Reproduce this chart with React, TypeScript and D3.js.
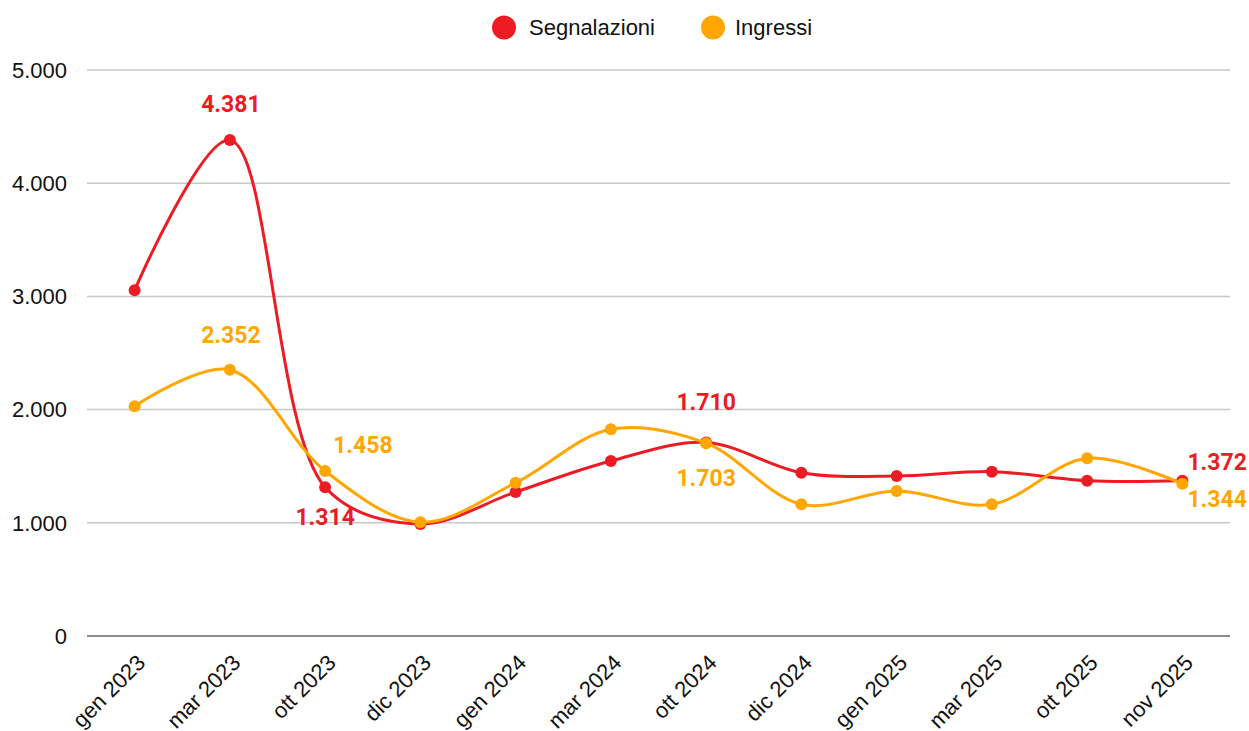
import React, { useRef, useEffect } from "react";
import * as d3 from "d3";

// months on the x axis
const categories = [
  "gen 2023",
  "mar 2023",
  "ott 2023",
  "dic 2023",
  "gen 2024",
  "mar 2024",
  "ott 2024",
  "dic 2024",
  "gen 2025",
  "mar 2025",
  "ott 2025",
  "nov 2025",
];

const segnalazioni = [3055, 4381, 1314, 990, 1272, 1546, 1710, 1443, 1413, 1452, 1372, 1372];
const ingressi = [2030, 2352, 1458, 1005, 1354, 1826, 1703, 1163, 1281, 1163, 1570, 1344];

const yTicks = [0, 1000, 2000, 3000, 4000, 5000];

// which points carry a value label
const labelledSegnalazioni = [1, 2, 6, 11];
const labelledIngressi = [1, 2, 6, 11];

const App = () => {
  const svgRef = useRef<SVGSVGElement>(null);
  const width = 1249;
  const height = 731;
  const margin = { top: 70, right: 19, bottom: 95, left: 87 };

  useEffect(() => {
    const it = d3.formatLocale({
      decimal: ",",
      thousands: ".",
      grouping: [3],
      currency: ["", " €"],
    });
    const fmt = it.format(",d");

    const series = [
      { name: "Segnalazioni", values: segnalazioni, color: "#ed1c24", labelled: labelledSegnalazioni },
      { name: "Ingressi", values: ingressi, color: "#ffa600", labelled: labelledIngressi },
    ];

    // label placement per series / index, decided to avoid overlaps like the original
    const placement: Record<string, Record<number, { dx: number; dy: number; anchor: string }>> = {
      Segnalazioni: {
        1: { dx: 1, dy: -28, anchor: "middle" },
        2: { dx: 0, dy: 38, anchor: "middle" },
        6: { dx: 0, dy: -32, anchor: "middle" },
        11: { dx: 5, dy: -11, anchor: "start" },
      },
      Ingressi: {
        1: { dx: 1, dy: -27, anchor: "middle" },
        2: { dx: 8, dy: -18, anchor: "start" },
        6: { dx: 0, dy: 43, anchor: "middle" },
        11: { dx: 5, dy: 23, anchor: "start" },
      },
    };

    const xScale = d3
      .scalePoint<string>()
      .domain(categories)
      .range([margin.left, width - margin.right])
      .padding(0.5);

    const yScale = d3
      .scaleLinear()
      .domain([0, 5000])
      .range([height - margin.bottom, margin.top]);

    const svg = d3.select(svgRef.current);
    svg.selectAll("*").remove();

    // gridlines
    svg
      .append("g")
      .selectAll("line")
      .data(yTicks.filter((t) => t > 0))
      .join("line")
      .attr("x1", margin.left)
      .attr("x2", width - margin.right)
      .attr("y1", (d) => yScale(d))
      .attr("y2", (d) => yScale(d))
      .attr("stroke", "#c8c8c8")
      .attr("stroke-width", 1.5);

    // baseline
    svg
      .append("line")
      .attr("x1", margin.left)
      .attr("x2", width - margin.right)
      .attr("y1", yScale(0))
      .attr("y2", yScale(0))
      .attr("stroke", "#8c8c8c")
      .attr("stroke-width", 2);

    // y tick labels
    svg
      .append("g")
      .selectAll("text")
      .data(yTicks)
      .join("text")
      .attr("x", 67)
      .attr("y", (d) => yScale(d))
      .attr("dy", "0.35em")
      .attr("text-anchor", "end")
      .attr("font-family", "'Liberation Sans', Arial, sans-serif")
      .attr("font-size", 22)
      .attr("fill", "#111")
      .text((d) => fmt(d));

    // x tick labels, slanted
    svg
      .append("g")
      .selectAll("text")
      .data(categories)
      .join("text")
      .attr("transform", (d) => `translate(${(xScale(d) as number) + 12},664) rotate(-45)`)
      .attr("text-anchor", "end")
      .attr("font-family", "'Liberation Sans', Arial, sans-serif")
      .attr("font-size", 22)
      .attr("fill", "#111")
      .text((d) => d);

    const line = d3
      .line<number>()
      .x((d, i) => xScale(categories[i]) as number)
      .y((d) => yScale(d))
      .curve(d3.curveCatmullRom.alpha(0.5));

    series.forEach((s) => {
      svg
        .append("path")
        .attr("d", line(s.values))
        .attr("fill", "none")
        .attr("stroke", s.color)
        .attr("stroke-width", 3);

      svg
        .append("g")
        .selectAll("circle")
        .data(s.values)
        .join("circle")
        .attr("cx", (d, i) => xScale(categories[i]) as number)
        .attr("cy", (d) => yScale(d))
        .attr("r", 6)
        .attr("fill", s.color);
    });

    // value labels
    series.forEach((s) => {
      svg
        .append("g")
        .selectAll("text")
        .data(s.labelled)
        .join("text")
        .attr("x", (i) => (xScale(categories[i]) as number) + placement[s.name][i].dx)
        .attr("y", (i) => yScale(s.values[i]) + placement[s.name][i].dy)
        .attr("text-anchor", (i) => placement[s.name][i].anchor)
        .attr("font-family", "Roboto, sans-serif")
        .attr("font-weight", 700)
        .attr("font-size", 23)
        .attr("fill", s.color)
        .text((i) => fmt(s.values[i]));
    });

    // legend
    const legendX = [504, 713];
    const legend = svg
      .append("g")
      .selectAll("g")
      .data(series)
      .join("g")
      .attr("transform", (d, i) => `translate(${legendX[i]},27.5)`);

    legend.append("circle").attr("r", 12).attr("fill", (d) => d.color);

    legend
      .append("text")
      .attr("x", (d, i) => (i === 0 ? 25 : 22))
      .attr("dy", "0.35em")
      .attr("font-family", "'Liberation Sans', Arial, sans-serif")
      .attr("font-size", 22)
      .attr("fill", "#111")
      .text((d) => d.name);
  }, []);

  return (
    <svg
      ref={svgRef}
      width={width}
      height={height}
      style={{ position: "absolute", left: 0, top: 0, background: "#fff" }}
    ></svg>
  );
};

export default App;
